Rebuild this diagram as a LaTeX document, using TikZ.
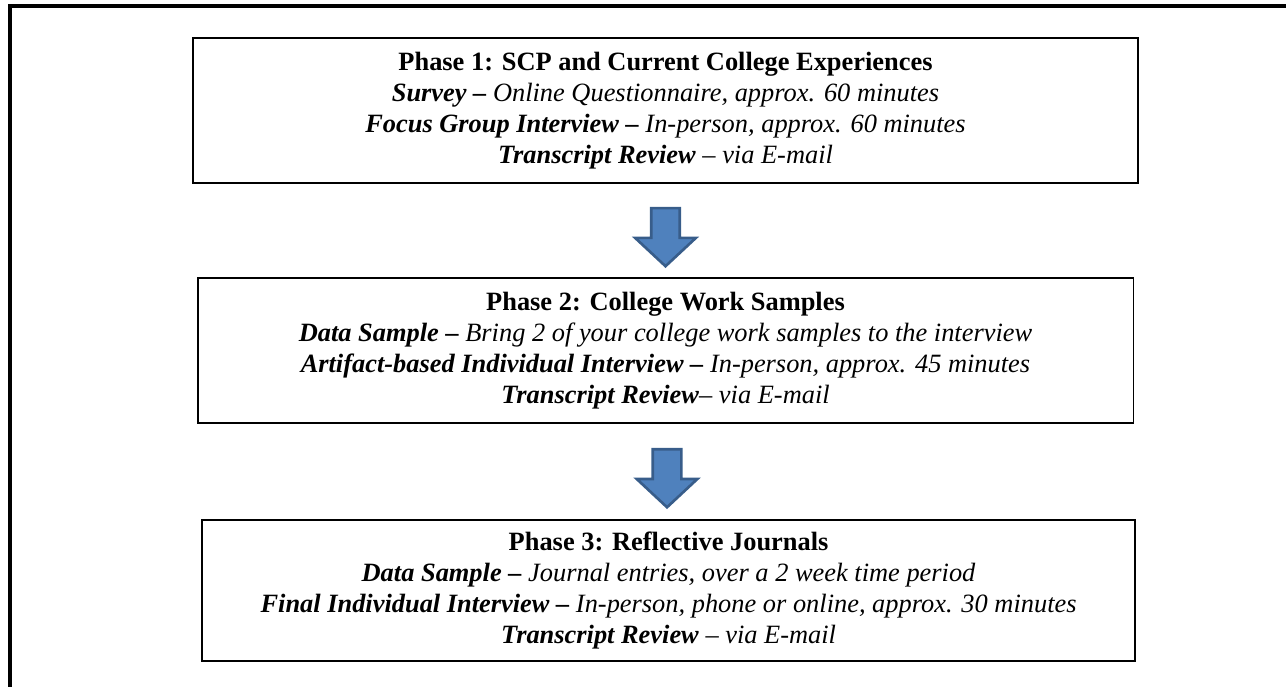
\documentclass[tikz,border=0pt]{standalone}
\usepackage{fontspec}
\setmainfont{Liberation Serif}
\usepackage{tikz}
\usetikzlibrary{positioning}
\usetikzlibrary{shapes.arrows}
\usetikzlibrary{calc}

\definecolor{arrowfill}{HTML}{4F81BD}
\definecolor{arrowline}{HTML}{385D8A}

\newcommand{\lead}[1]{\textbf{\textit{#1}}}

\begin{document}
\begin{tikzpicture}[x=0.4545pt, y=-0.4545pt,
	phasebox/.style={draw, line width=0.9pt, minimum height=65.9pt, inner sep=0pt, align=center, font=\fontsize{12}{14.1}\selectfont},
	downarrow/.style={single arrow, draw=arrowline, fill=arrowfill, line width=1.2pt, rotate=-90, inner xsep=0pt, inner ysep=5.9pt, minimum height=26.4pt, minimum width=26.4pt, single arrow head extend=7.3pt, single arrow tip angle=94}]
	\useasboundingbox (0,0) rectangle (1286,687);

	\draw[line width=1.4pt] (10,720) -- (10,6) -- (1320,6);

	\node [phasebox, minimum width=429.5pt] (phase1) at (665.5,110.5) {\textbf{Phase 1: SCP and Current College Experiences}\\
		\lead{Survey –} \textit{Online Questionnaire, approx. 60 minutes}\\
		\lead{Focus Group Interview –} \textit{In-person, approx. 60 minutes}\\
		\lead{Transcript Review} \textit{– via E-mail}};
	\node [phasebox, minimum width=425.4pt, below=42.3pt of phase1] (phase2) {\textbf{Phase 2: College Work Samples}\\
		\lead{Data Sample –} \textit{Bring 2 of your college work samples to the interview}\\
		\lead{Artifact-based Individual Interview –} \textit{In-person, approx. 45 minutes}\\
		\lead{Transcript Review}\textit{– via E-mail}};
	\node [phasebox, minimum width=424pt, minimum height=64pt, below=43.2pt of phase2, xshift=1.4pt] (phase3) {\textbf{Phase 3: Reflective Journals}\\
		\lead{Data Sample –} \textit{Journal entries, over a 2 week time period}\\
		\lead{Final Individual Interview –} \textit{In-person, phone or online, approx. 30 minutes}\\
		\lead{Transcript Review} \textit{– via E-mail}};

	\node [downarrow] (arrow1) at ($(phase1.south)!0.5!(phase2.north)$) {};
	\node [downarrow] (arrow2) at ($(phase2.south)!0.5!(phase3.north)$) {};
\end{tikzpicture}
\end{document}
